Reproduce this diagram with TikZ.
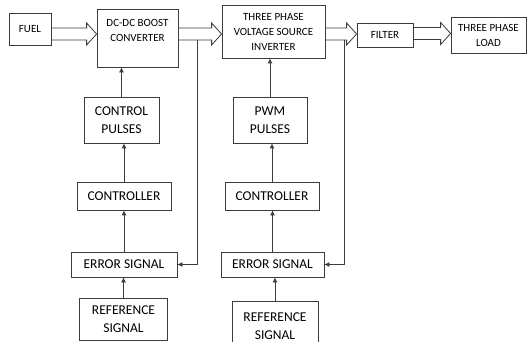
\documentclass[tikz,border=0pt]{standalone}
\usepackage{fontspec}
\setmainfont{Carlito}
\usetikzlibrary{arrows.meta, calc}
\definecolor{cline}{HTML}{3C3C3C}
\tikzset{
  every picture/.style={line width=0.8pt},
  box/.style={draw=cline, fill=white, align=center, inner sep=0pt},
  toprow/.style={font=\fontsize{11}{15}\selectfont},
  lowrow/.style={font=\fontsize{13.5}{18}\selectfont},
  arrow/.style={-{Latex[length=5pt, width=5pt]}, draw=cline},
  fat/.style={draw=cline, fill=white, line join=miter},
}
% hollow power-flow arrow from node #1 to node #2, centred at height #3
\newcommand{\fatarrow}[3]{%
  \draw[fat] (#1.east |- 0,#3-6) -- ($(#2.west |- 0,#3-6)+(-10,0)$)
    -- ($(#2.west |- 0,#3-11)+(-10,0)$) -- (#2.west |- 0,#3)
    -- ($(#2.west |- 0,#3+11)+(-10,0)$) -- ($(#2.west |- 0,#3+6)+(-10,0)$)
    -- (#1.east |- 0,#3+6) -- cycle;}

\begin{document}
\begin{tikzpicture}[x=1pt, y=-1pt]
  \useasboundingbox (0,0) rectangle (528,342);
  \clip (0,0) rectangle (528,342);

  % power stage
  \node[box, toprow, minimum width=42, minimum height=32] (fuel) at (30,29) {FUEL};
  \node[box, toprow, minimum width=81, minimum height=58] (dcdc) at (137.5,38) {DC-DC BOOST\\CONVERTER\\ \mbox{}};
  \node[box, toprow, minimum width=103, minimum height=53] (vsi) at (273.5,31.5) {THREE PHASE\\VOLTAGE SOURCE\\INVERTER};
  \node[box, toprow, minimum width=56, minimum height=24] (filter) at (385,35) {FILTER};
  \node[box, toprow, minimum width=75, minimum height=36] (load) at (488.5,35) {THREE PHASE\\LOAD};

  % converter control loop
  \node[box, lowrow, minimum width=75, minimum height=46] (cp1) at (121.5,120) {CONTROL\\PULSES};
  \node[box, lowrow, minimum width=94, minimum height=28] (ctrl1) at (124,196) {CONTROLLER};
  \node[box, lowrow, minimum width=106, minimum height=25] (err1) at (124,264.5) {ERROR SIGNAL};
  \node[box, lowrow, minimum width=88, minimum height=42] (ref1) at (123.5,319) {REFERENCE\\SIGNAL};

  % inverter control loop
  \node[box, lowrow, minimum width=74, minimum height=46] (pwm) at (270,120) {PWM\\PULSES};
  \node[box, lowrow, minimum width=94, minimum height=28] (ctrl2) at (272,196) {CONTROLLER};
  \node[box, lowrow, minimum width=103, minimum height=25] (err2) at (272.5,264.5) {ERROR SIGNAL};
  \node[box, lowrow, minimum width=86, minimum height=50] (ref2) at (275,326) {REFERENCE\\SIGNAL};

  \fatarrow{fuel}{dcdc}{34}
  \fatarrow{dcdc}{vsi}{34}
  \fatarrow{vsi}{filter}{34}
  \fatarrow{filter}{load}{33.5}

  \foreach \a/\b in {ref1/err1, err1/ctrl1, ctrl1/cp1, cp1/dcdc, ref2/err2, err2/ctrl2, ctrl2/pwm, pwm/vsi}
    \draw[arrow] (\a.north) -- (\a.north |- \b.south);

  % feedback taps
  \coordinate (tap1) at (197,40);
  \coordinate (tap2) at (344,40);
  \draw[arrow] (tap1) |- (err1.east);
  \draw[arrow] (tap2) |- (err2.east);
\end{tikzpicture}
\end{document}
